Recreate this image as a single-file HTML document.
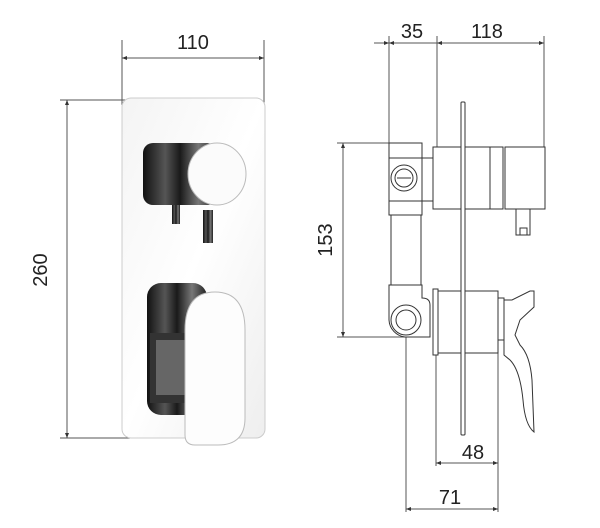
<!DOCTYPE html>
<html><head><style>
html,body{margin:0;padding:0;background:#fff;}
svg{display:block;}
text{font-family:"Liberation Sans",sans-serif;fill:#222;}
</style></head><body>
<svg width="600" height="528" viewBox="0 0 600 528" xmlns="http://www.w3.org/2000/svg">
<defs>
<linearGradient id="dk" x1="0" y1="0" x2="1" y2="0">
<stop offset="0" stop-color="#111"/><stop offset="0.3" stop-color="#555"/><stop offset="0.5" stop-color="#1a1a1a"/><stop offset="0.75" stop-color="#777"/><stop offset="1" stop-color="#222"/>
</linearGradient>
<linearGradient id="pl" x1="0" y1="0" x2="1" y2="1">
<stop offset="0" stop-color="#f4f4f4"/><stop offset="0.5" stop-color="#fff"/><stop offset="1" stop-color="#eee"/>
</linearGradient>
<marker id="a" viewBox="0 0 10 10" refX="10" refY="5" markerWidth="7" markerHeight="5" orient="auto-start-reverse"><path d="M0,1 L10,5 L0,9z" fill="#333"/></marker>
</defs>
<g stroke="#555" stroke-width="1" fill="none">
<!-- left dims -->
<line x1="122" y1="40" x2="122" y2="105"/><line x1="264" y1="40" x2="264" y2="108"/>
<line x1="122" y1="58" x2="264" y2="58" marker-start="url(#a)" marker-end="url(#a)"/>
<line x1="60" y1="100" x2="130" y2="100"/><line x1="60" y1="438" x2="130" y2="438"/>
<line x1="67" y1="100" x2="67" y2="438" marker-start="url(#a)" marker-end="url(#a)"/>
<!-- right dims -->
<line x1="389" y1="36" x2="389" y2="143"/><line x1="437" y1="36" x2="437" y2="147"/><line x1="544" y1="36" x2="544" y2="147"/>
<line x1="374" y1="43" x2="389" y2="43" marker-end="url(#a)"/>
<line x1="389" y1="43" x2="437" y2="43" marker-start="url(#a)"/>
<line x1="437" y1="43" x2="544" y2="43" marker-start="url(#a)" marker-end="url(#a)"/>
<line x1="337" y1="143" x2="389" y2="143"/><line x1="337" y1="337" x2="405" y2="337"/>
<line x1="343" y1="143" x2="343" y2="337" marker-start="url(#a)" marker-end="url(#a)"/>
<line x1="436" y1="355" x2="436" y2="466"/><line x1="498" y1="340" x2="498" y2="512"/><line x1="406" y1="322" x2="406" y2="512"/>
<line x1="436" y1="463" x2="498" y2="463" marker-start="url(#a)" marker-end="url(#a)"/>
<line x1="406" y1="509" x2="498" y2="509" marker-start="url(#a)" marker-end="url(#a)"/>
</g>
<text x="193" y="49" font-size="20" text-anchor="middle">110</text>
<text x="412" y="38" font-size="20" text-anchor="middle">35</text>
<text x="487" y="38" font-size="20" text-anchor="middle">118</text>
<text x="473" y="459" font-size="20" text-anchor="middle">48</text>
<text x="450" y="504" font-size="20" text-anchor="middle">71</text>
<text transform="translate(47,270) rotate(-90)" font-size="20" text-anchor="middle">260</text>
<text transform="translate(332,240) rotate(-90)" font-size="20" text-anchor="middle">153</text>

<!-- front view -->
<rect x="122" y="98" width="143" height="340" rx="9" fill="url(#pl)" stroke="#ccc"/>
<rect x="172" y="196" width="8" height="28" fill="url(#dk)"/>
<rect x="203" y="210" width="10" height="33" fill="url(#dk)"/>
<rect x="143" y="143" width="74" height="62" rx="10" fill="url(#dk)"/>
<ellipse cx="217" cy="174" rx="29" ry="31" fill="#fbfbfb" stroke="#bbb"/>
<rect x="147" y="283" width="60" height="132" rx="14" fill="url(#dk)"/>
<rect x="150" y="333" width="40" height="70" fill="#333"/>
<rect x="156" y="340" width="30" height="55" fill="#666"/>
<path d="M185,330 Q185,292 215,292 Q245,292 245,330 L245,418 Q245,445 218,445 L195,445 Q185,445 185,435 Z" fill="#fdfdfd" stroke="#bbb"/>

<!-- side view -->
<g stroke="#333" stroke-width="1" fill="#fff">
<rect x="389" y="143" width="33" height="72"/>
<line x1="389" y1="158" x2="422" y2="158"/><line x1="389" y1="201" x2="422" y2="201"/>
<line x1="422" y1="158" x2="433" y2="158"/><line x1="422" y1="201" x2="433" y2="201"/>
<circle cx="404" cy="178" r="13"/><circle cx="404" cy="178" r="9"/>
<line x1="397" y1="178" x2="411" y2="178"/>
<rect x="391" y="215" width="30" height="70"/>
<path d="M389,285 L422,285 L422,298 Q430,298 430,305 L430,337 L405,337 A18,18 0 0 1 389,320 Z"/>
<circle cx="406" cy="320" r="15"/><circle cx="406" cy="320" r="10"/>
<rect x="433" y="147" width="70" height="62"/>
<line x1="490" y1="147" x2="490" y2="209"/>
<rect x="505" y="147" width="40" height="62"/>
<rect x="516" y="209" width="14" height="26"/>
<rect x="520" y="228" width="7" height="7"/>
<rect x="433" y="289" width="5" height="66"/>
<rect x="438" y="291" width="60" height="62"/>
<rect x="498" y="298" width="6" height="42"/>
<path d="M504,300 L512,300 L530,291 L534,291 L534,307 L520,320 L515,335 L520,345 Q530,355 532,380 L534,432 Q525,425 523,400 Q520,370 510,360 L504,355 Z"/>
<rect x="461" y="102" width="4" height="333" rx="1"/>
</g>
</svg>
</body></html>
